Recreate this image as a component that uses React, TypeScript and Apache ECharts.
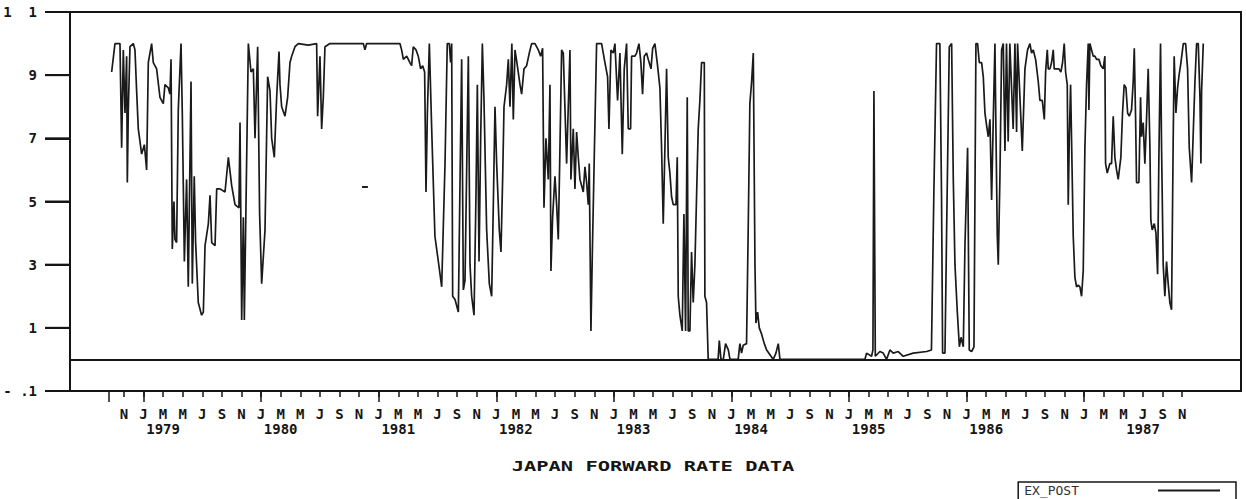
import React, { useEffect, useRef } from "react";
import * as echarts from "echarts";

// x = months since January 1979, y = value
const months = [
  -3.25, -2.91, -2.4, -2.23, -2.06, -1.89, -1.72, -1.65, -1.55, -1.38, -1.04, -0.87, -0.7, -0.53, -0.19, 0.09, 0.32, 0.49, 0.83, 1.0,
  1.34, 1.68, 2.02, 2.19, 2.53, 2.7, 2.81, 2.94, 3.11, 3.21, 3.38, 3.55, 3.83, 3.96, 4.17, 4.4, 4.57, 4.85, 4.98, 5.18,
  5.32, 5.59, 5.93, 6.11, 6.28, 6.62, 6.79, 6.96, 7.3, 7.47, 7.81, 8.32, 8.66, 9.0, 9.34, 9.74, 9.85, 10.02, 10.19, 10.29,
  10.7, 10.97, 11.21, 11.38, 11.65, 11.85, 12.06, 12.4, 12.67, 12.91, 13.08, 13.35, 13.59, 13.83, 13.93, 14.1, 14.44, 14.71, 14.95, 15.12,
  15.46, 15.8, 16.82, 17.67, 17.77, 18.01, 18.18, 18.35, 18.52,
  19.03, 22.43, 22.6, 22.77, 26.17, 26.34, 26.52, 26.86, 27.19, 27.36, 27.53, 27.81, 28.04, 28.28, 28.49, 28.69, 28.83, 28.97, 29.17, 29.41,
  29.74, 30.09, 30.43, 30.77, 31.0, 31.21, 31.34, 31.45, 31.55, 31.79, 32.13, 32.3, 32.47, 32.64, 32.81, 32.98, 33.15, 33.32, 33.49, 33.73,
  33.93, 34.07, 34.24, 34.41, 34.58, 34.74, 35.02, 35.29, 35.53, 35.7, 35.87, 36.04, 36.31, 36.48, 36.65, 36.79, 37.06, 37.23, 37.4, 37.59,
  37.74, 37.91, 38.15, 38.42, 38.59, 38.83, 39.1, 39.37, 39.61, 39.95, 40.29, 40.53, 40.73, 40.87, 41.07, 41.31, 41.48, 41.58, 41.75, 41.99,
  42.16, 42.33, 42.5, 42.67, 42.84, 43.18,
  43.52, 43.62, 43.86, 44.03, 44.2, 44.37, 44.54, 44.88, 45.05, 45.22, 45.39, 45.49, 45.66, 45.8, 46.0, 46.24, 46.75, 47.09, 47.36, 47.5,
  47.7, 47.94, 48.11, 48.38, 48.62, 48.86, 49.06, 49.3, 49.47, 49.71, 49.81, 50.15, 50.32, 50.56, 50.76, 50.93, 51.1, 51.34, 51.51, 51.79,
  51.96, 52.19, 52.46, 52.7, 52.87, 53.04, 53.21, 53.38, 53.55, 53.72, 53.89, 54.06, 54.34, 54.47, 54.57, 54.74, 54.98, 55.15, 55.32, 55.49,
  55.59, 55.76, 55.93, 56.1, 56.27, 56.44, 56.61, 56.78, 56.95, 57.23, 57.29, 57.46, 57.63, 58.64, 58.76, 58.93, 59.17, 59.4, 59.68, 59.85,
  60.69, 60.86, 61.03, 61.2, 61.54, 61.71, 61.88, 62.06, 62.23, 62.4, 62.5, 62.67, 62.84, 63.08, 63.35, 63.59, 63.93, 64.27, 64.54, 64.78,
  64.95,
  73.62, 73.79, 74.3, 74.44, 74.54, 74.68, 75.15, 75.49, 75.83, 76.17, 76.51, 77.02, 77.53, 78.55, 79.92, 80.41, 80.65, 80.93, 81.27, 81.44,
  81.55, 81.79, 81.96, 82.23, 82.47, 82.64, 82.81, 83.05, 83.26, 83.43, 83.66, 83.83, 84.1, 84.27, 84.51, 84.75, 84.95, 85.12, 85.29, 85.53,
  85.7, 85.87, 86.04, 86.21, 86.38, 86.55, 86.72, 86.89, 86.99, 87.13, 87.23, 87.4, 87.57, 87.74, 87.91, 88.07, 88.24, 88.41, 88.75, 88.93,
  89.1, 89.2, 89.68, 89.95, 90.22, 90.46, 90.63, 90.8, 91.04, 91.31, 91.48, 91.72, 91.93, 92.06, 92.23, 92.33, 92.5, 92.67, 92.84, 92.94,
  93.18, 93.42, 93.62, 93.79, 93.96, 94.1, 94.27, 94.37, 94.48, 94.61, 94.71, 94.88, 95.05, 95.22, 95.39, 95.56, 95.73, 95.9, 96.07, 96.24,
  96.41, 96.48, 96.58, 96.75, 96.92, 97.09, 97.26, 97.5, 97.7, 97.94, 98.11, 98.18, 98.35, 98.62, 98.79, 98.96, 99.13, 99.3, 99.47, 99.74,
  99.91, 100.08, 100.26, 100.43, 100.6, 100.83, 101.0, 101.11, 101.24, 101.34, 101.58, 101.75, 101.85, 102.02, 102.19, 102.36, 102.53, 102.7, 102.8, 102.94,
  103.15, 103.32, 103.49, 103.62, 103.79, 103.89, 104.06, 104.23, 104.4, 104.57, 104.74, 104.91, 105.08, 105.18, 105.36, 105.53, 105.66, 105.87, 106.11, 106.35,
  106.55, 106.72, 106.96, 107.13, 107.3, 107.47, 107.64, 107.81, 107.91, 107.98, 108.15,
];

const values = [
  0.91, 1.0, 1.0, 0.67, 0.98, 0.78, 0.96, 0.56, 0.79, 0.99, 1.0, 0.98, 0.85, 0.73, 0.65, 0.68, 0.6, 0.94, 1.0, 0.94,
  0.92, 0.83, 0.81, 0.87, 0.86, 0.84, 0.95, 0.35, 0.5, 0.38, 0.37, 0.79, 1.0, 0.78, 0.31, 0.57, 0.23, 0.88, 0.24, 0.58,
  0.37, 0.18, 0.14, 0.15, 0.36, 0.43, 0.52, 0.37, 0.36, 0.54, 0.54, 0.53, 0.64, 0.55, 0.49, 0.48, 0.75, 0.125, 0.45, 0.125,
  1.0, 0.91, 0.92, 0.7, 0.99, 0.46, 0.24, 0.41, 0.895, 0.85, 0.7, 0.64, 0.83, 0.975, 0.87, 0.8, 0.77, 0.83, 0.94, 0.96,
  0.99, 1.0, 0.995, 1.0, 0.77, 0.96, 0.73, 0.83, 0.99,
  1.0, 1.0, 0.98, 1.0, 1.0, 0.98, 0.95, 0.96, 0.94, 0.93, 0.99, 0.98, 0.96, 0.92, 0.93, 0.91, 0.53, 0.78, 1.0, 0.73,
  0.39, 0.31, 0.23, 0.62, 1.0, 1.0, 0.94, 1.0, 0.2, 0.19, 0.15, 0.56, 0.95, 0.22, 0.25, 0.6, 0.96, 0.3, 0.2, 0.14,
  0.52, 0.87, 0.31, 0.7, 1.0, 0.83, 0.41, 0.24, 0.2, 0.49, 0.8, 0.62, 0.41, 0.34, 0.57, 0.8, 0.87, 0.95, 0.8, 1.0,
  0.76, 0.98, 0.93, 0.87, 0.84, 0.92, 0.93, 0.97, 1.0, 1.0, 0.98, 0.96, 0.985, 0.48, 0.7, 0.57, 0.87, 0.28, 0.45, 0.58,
  0.49, 0.38, 0.67, 0.98, 0.97, 0.62,
  0.98, 0.57, 0.73, 0.54, 0.72, 0.64, 0.57, 0.53, 0.61, 0.56, 0.49, 0.62, 0.09, 0.33, 0.64, 1.0, 1.0, 0.94, 0.895, 0.73,
  0.98, 0.97, 1.0, 0.82, 0.97, 0.65, 0.92, 1.0, 0.73, 0.73, 0.96, 0.96, 0.97, 1.0, 0.94, 0.84, 0.96, 0.97, 0.95, 0.92,
  0.985, 1.0, 0.93, 0.86, 0.67, 0.43, 0.67, 0.92, 0.64, 0.59, 0.515, 0.49, 0.49, 0.64, 0.2, 0.14, 0.09, 0.46, 0.09, 0.83,
  0.09, 0.09, 0.34, 0.18, 0.3, 0.515, 0.73, 0.82, 0.94, 0.94, 0.2, 0.18, 0.0, 0.0, 0.06, 0.0, 0.0, 0.05, 0.03, 0.0,
  0.0, 0.05, 0.02, 0.045, 0.05, 0.41, 0.81, 0.88, 0.97, 0.3, 0.115, 0.15, 0.1, 0.08, 0.05, 0.03, 0.015, 0.0, 0.02, 0.05,
  0.0,
  0.0, 0.02, 0.01, 0.03, 0.85, 0.01, 0.025, 0.02, 0.0, 0.03, 0.02, 0.025, 0.01, 0.02, 0.025, 0.03, 0.515, 1.0, 1.0, 0.515,
  0.02, 0.02, 0.41, 0.99, 1.0, 0.57, 0.3, 0.15, 0.04, 0.07, 0.04, 0.36, 0.67, 0.03, 0.025, 0.04, 1.0, 1.0, 0.94, 0.94,
  0.895, 0.78, 0.74, 0.705, 0.76, 0.505, 0.76, 1.0, 0.73, 0.39, 0.3, 0.58, 0.98, 1.0, 0.66, 1.0, 0.69, 1.0, 0.73, 1.0,
  0.72, 1.0, 0.66, 0.92, 0.98, 1.0, 0.97, 0.98, 0.95, 0.88, 0.82, 0.82, 0.76, 0.91, 0.98, 0.92, 0.92, 0.94, 0.98, 0.92,
  0.92, 0.92, 0.91, 0.94, 1.0, 0.91, 0.87, 0.49, 0.705, 0.87, 0.695, 0.39, 0.26, 0.23, 0.235, 0.23, 0.2, 0.28, 0.67, 0.87,
  1.0, 0.79, 1.0, 0.98, 0.96, 0.96, 0.95, 0.95, 0.93, 0.92, 0.96, 0.62, 0.59, 0.62, 0.62, 0.77, 0.64, 0.6, 0.57, 0.64,
  0.78, 0.87, 0.86, 0.78, 0.77, 0.79, 0.88, 0.985, 0.77, 0.56, 0.56, 0.83, 0.705, 0.75, 0.62, 0.76, 0.92, 0.68, 0.44, 0.41,
  0.43, 0.4, 0.27, 0.64, 1.0, 0.68, 0.3, 0.2, 0.31, 0.24, 0.18, 0.157, 0.695, 0.96, 0.78, 0.86, 0.895, 0.94, 1.0, 1.0,
  0.92, 0.67, 0.56, 0.72, 0.88, 1.0, 1.0, 0.83, 0.62, 0.85, 1.0,
];

// short isolated dash visible in the 1980 section
const strayMonths = [22.3, 22.9];
const strayValues = [0.546, 0.546];

const monthTickValues = [
  -2, 0, 2, 4, 6, 8, 10, 12, 14, 16, 18, 20, 22, 24, 26, 28, 30, 32, 34, 36, 38, 40, 42, 44, 46, 48, 50, 52, 54,
  56, 58, 60, 62, 64, 66, 68, 70, 72, 74, 76, 78, 80, 82, 84, 86, 88, 90, 92, 94, 96, 98, 100, 102, 104, 106,
];
const monthLabelValues = monthTickValues;
const monthLetters = ["J", "M", "M", "J", "S", "N"];
const yearTickValues = [-3.5, 0, 12, 24, 36, 48, 60, 72, 84, 96];
const yearLabelValues = [2, 14, 26, 38, 50, 62, 74, 86, 102];
const yearLabels = ["1979", "1980", "1981", "1982", "1983", "1984", "1985", "1986", "1987"];
const yTickValues = [-0.1, 0.1, 0.3, 0.5, 0.7, 0.9, 1.1];
const yTickLabels: Record<string, string> = {
  "11": "1  1",
  "9": "9",
  "7": "7",
  "5": "5",
  "3": "3",
  "1": "1",
  "-1": "- .1",
};

const FONT = "DejaVu Sans Mono";
const INK = "#151515";
const X_MIN = -7.5;
const X_MAX = 112;
const Y_TICK_LEN = 25;

export default function App() {
  const ref = useRef<HTMLDivElement>(null);

  useEffect(() => {
    if (!ref.current) return;
    const chart = echarts.init(ref.current, null, { renderer: "svg" });
    const labelStyle = { fontFamily: FONT, fontSize: 14, fontWeight: "bold" as const, color: INK };

    const titleGraphic = {
      id: "title",
      type: "text",
      x: 653,
      y: 466,
      scaleX: 1.46,
      style: {
        text: "JAPAN FORWARD RATE DATA",
        fontFamily: FONT,
        fontSize: 14,
        fontWeight: "bold",
        fill: INK,
        align: "center",
        verticalAlign: "middle",
        textAlign: "center",
        textVerticalAlign: "middle",
      },
    };

    chart.setOption({
      animation: false,
      backgroundColor: "#ffffff",
      grid: {
        left: 70,
        right: 5,
        top: 12,
        bottom: 108,
        show: true,
        borderColor: INK,
        borderWidth: 2,
        backgroundColor: "transparent",
      },
      xAxis: [
        {
          type: "value",
          position: "bottom",
          min: X_MIN,
          max: X_MAX,
          axisLine: { show: true, onZero: false, lineStyle: { color: INK, width: 2 } },
          axisTick: { show: true, length: 6, customValues: monthTickValues, lineStyle: { color: INK, width: 1.5 } },
          axisLabel: {
            ...labelStyle,
            margin: 16,
            customValues: monthLabelValues,
            formatter: (v: number) => monthLetters[Math.round((((v % 12) + 12) % 12) / 2) % 6],
          },
          splitLine: { show: false },
        },
        {
          type: "value",
          position: "bottom",
          min: X_MIN,
          max: X_MAX,
          axisLine: { show: false, onZero: false },
          axisTick: { show: true, length: 11, customValues: yearTickValues, lineStyle: { color: INK, width: 1.5 } },
          axisLabel: {
            ...labelStyle,
            margin: 31,
            customValues: yearLabelValues,
            formatter: (v: number) => {
              const i = yearLabelValues.indexOf(Math.round(v));
              return i >= 0 ? yearLabels[i] : "";
            },
          },
          splitLine: { show: false },
        },
      ],
      yAxis: {
        type: "value",
        position: "left",
        min: -0.1,
        max: 1.1,
        interval: 0.2,
        axisLine: { show: true, onZero: false, lineStyle: { color: INK, width: 2 } },
        axisTick: { show: true, length: Y_TICK_LEN, lineStyle: { color: INK, width: 2 } },
        splitLine: { show: false },
        axisLabel: {
          ...labelStyle,
          margin: 33,
          formatter: (v: number) => yTickLabels[String(Math.round(v * 10))] ?? "",
        },
      },
      legend: {
        data: ["EX_POST"],
        right: 10,
        bottom: -8,
        align: "right",
        icon: "rect",
        itemWidth: 62,
        itemHeight: 2,
        borderColor: INK,
        borderWidth: 1.5,
        borderRadius: 0,
        padding: [2, 16, 10, 6],
        textStyle: { fontFamily: FONT, fontSize: 13, lineHeight: 13, color: "#333", padding: [0, 74, 0, 0] },
      },
      graphic: [titleGraphic],
      series: [
        {
          name: "EX_POST",
          type: "line",
          xAxisIndex: 0,
          yAxisIndex: 0,
          symbol: "none",
          data: months.map((m, i) => [m, values[i]]),
          lineStyle: { color: "#1a1a1a", width: 1.7 },
          itemStyle: { color: "#1a1a1a" },
          markLine: {
            symbol: "none",
            silent: true,
            label: { show: false },
            lineStyle: { color: INK, width: 2, type: "solid" },
            data: [{ yAxis: 0 }],
          },
        },
        {
          name: "stray",
          type: "line",
          xAxisIndex: 0,
          yAxisIndex: 0,
          symbol: "none",
          data: strayMonths.map((m, i) => [m, strayValues[i]]),
          lineStyle: { color: "#1a1a1a", width: 2 },
        },
      ],
    });

    // outward y-axis tick marks, placed through the chart's own scales
    const xLeft = chart.convertToPixel({ xAxisIndex: 0 }, X_MIN) as number;
    const tickLines = yTickValues.map((v, i) => {
      const py = chart.convertToPixel({ yAxisIndex: 0 }, v) as number;
      return {
        id: "ytick" + i,
        type: "line",
        shape: { x1: xLeft - Y_TICK_LEN, y1: py, x2: xLeft, y2: py },
        style: { stroke: INK, lineWidth: 2 },
        silent: true,
      };
    });
    chart.setOption({ graphic: [titleGraphic, ...tickLines] });

    return () => chart.dispose();
  }, []);

  return (
    <div
      ref={ref}
      style={{ position: "fixed", left: 0, top: 0, width: 1246, height: 499, background: "#fff" }}
    />
  );
}
